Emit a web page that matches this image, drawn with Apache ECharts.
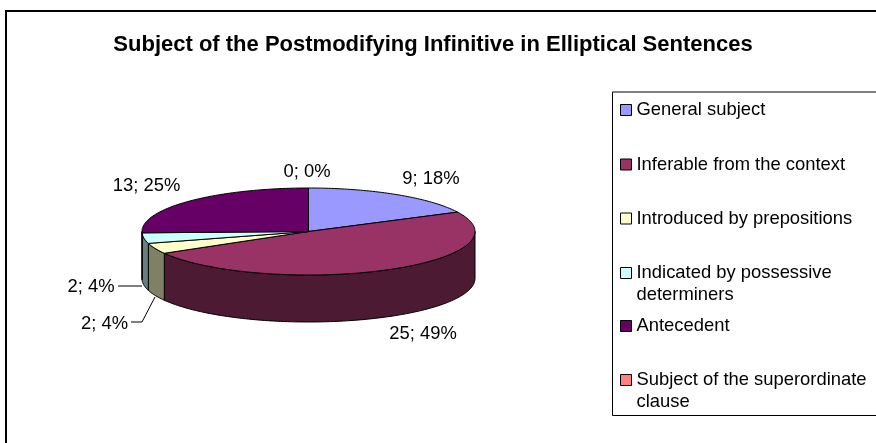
<!DOCTYPE html>
<html>
<head>
<meta charset="utf-8">
<title>Subject of the Postmodifying Infinitive in Elliptical Sentences</title>
<script src="https://cdn.jsdelivr.net/npm/echarts@6/dist/echarts.min.js"></script>
<style>
  html, body { margin: 0; padding: 0; background: #fff; }
  #chart { width: 876px; height: 443px; }
</style>
</head>
<body>
<div id="chart"></div>
<script>
// data
const chartTitle = 'Subject of the Postmodifying Infinitive in Elliptical Sentences'
const categories = [
  'General subject',
  'Inferable from the context',
  'Introduced by prepositions',
  'Indicated by possessive\ndeterminers',
  'Antecedent',
  'Subject of the superordinate\nclause'
]
const values = [9, 25, 2, 2, 13, 0]

// slice colours
const topColors = ['#9999ff', '#993366', '#ffffcc', '#ccffff', '#660066', '#ff8080']
const wallColors = ['#4d4d80', '#4d1a33', '#808066', '#668080', '#330033', '#804040']

// layout
const FONT = '"Liberation Sans", Arial, sans-serif'
const pie = { cx: 308.5, cy: 231.5, rx: 166.5, ry: 43.5, depth: 47 }
const labelPos = [[431, 179], [423, 334], [104.5, 323.5], [91, 287], [146.5, 186], [307, 172]]
const legendRows = [110, 164.5, 218.5, 273, 326, 380]

const total = values.reduce((a, b) => a + b, 0)
const starts = values.map((v, i) => values.slice(0, i).reduce((a, b) => a + b, 0))

// angle is clockwise from 12 o'clock
function topPoint(a, dy) {
  return [pie.cx + pie.rx * Math.sin(a), pie.cy - pie.ry * Math.cos(a) + (dy || 0)]
}

function arcPoints(a0, a1, dy) {
  const n = Math.max(2, Math.ceil(Math.abs(a1 - a0) / 0.02))
  const pts = []
  for (let i = 0; i <= n; i++) pts.push(topPoint(a0 + (a1 - a0) * i / n, dy))
  return pts
}

function renderSlice(color, wall) {
  return function (params, api) {
    const value = api.value(0)
    const start = api.value(1)
    const a0 = start / total * Math.PI * 2
    const a1 = (start + value) / total * Math.PI * 2
    const children = []
    const line = { stroke: '#000', lineWidth: 1 }

    // only the front half of the rim can be seen
    const w0 = Math.max(a0, Math.PI / 2)
    const w1 = Math.min(a1, Math.PI * 1.5)
    if (w1 > w0) {
      const pts = arcPoints(w0, w1, 0).concat(arcPoints(w1, w0, pie.depth))
      children.push({
        type: 'polygon',
        shape: { points: pts },
        style: Object.assign({ fill: wall }, line)
      })
    }
    if (a1 > a0) {
      children.push({
        type: 'polygon',
        shape: { points: [[pie.cx, pie.cy]].concat(arcPoints(a0, a1, 0)) },
        style: Object.assign({ fill: color }, line)
      })
    }
    return { type: 'group', children: children }
  }
}

const sliceSeries = categories.map((name, i) => ({
  type: 'custom',
  name: name,
  coordinateSystem: 'none',
  silent: true,
  clip: false,
  z: 2,
  itemStyle: { color: topColors[i], borderColor: '#000', borderWidth: 1 },
  encode: { value: [0, 1] },
  data: [[values[i], starts[i]]],
  renderItem: renderSlice(topColors[i], wallColors[i])
}))

const dataLabels = values.map((v, i) => ({
  type: 'text',
  x: labelPos[i][0],
  y: labelPos[i][1],
  style: {
    text: v + '; ' + Math.round(v / total * 100) + '%',
    font: '18.4px ' + FONT,
    fill: '#000',
    align: 'center',
    verticalAlign: 'middle'
  },
  z: 5
}))

const leaders = [
  [[118, 286], [142, 286]],
  [[131, 322], [142, 322], [155, 297]]
].map(points => ({
  type: 'polyline',
  shape: { points: points },
  style: { stroke: '#000', lineWidth: 1, fill: 'none' },
  z: 5
}))

const frames = [
  { type: 'polyline', shape: { points: [[6, 443], [6, 11], [876, 11]] }, style: { stroke: '#000', lineWidth: 2, fill: 'none' } },
  { type: 'rect', shape: { x: 612.5, y: 92, width: 280, height: 323.5 }, style: { stroke: '#000', lineWidth: 1, fill: '#fff' } }
]

// one legend per entry so the uneven rows can be kept
// wrapped entries get an empty first line, that keeps the marker on the first text line
const LINE = 22
const legends = categories.map((name, i) => {
  const wrapped = name.indexOf('\n') > 0
  return {
    data: [name],
    orient: 'vertical',
    left: 620,
    top: legendRows[i] - (wrapped ? LINE * 1.5 : LINE / 2),
    padding: 0,
    itemWidth: 11,
    itemHeight: 11,
    itemGap: 0,
    selectedMode: false,
    icon: 'rect',
    itemStyle: { borderColor: '#000', borderWidth: 1 },
    formatter: n => (wrapped ? ' \n' : '') + n,
    textStyle: { fontFamily: FONT, fontSize: 18.4, color: '#000', lineHeight: LINE }
  }
})

const chart = echarts.init(document.getElementById('chart'), null, { renderer: 'canvas' })
chart.setOption({
  animation: false,
  backgroundColor: '#fff',
  title: {
    text: chartTitle,
    left: 433,
    textAlign: 'center',
    top: 34,
    padding: 0,
    textStyle: { fontFamily: FONT, fontSize: 22, fontWeight: 'bold', color: '#000' }
  },
  legend: legends,
  series: sliceSeries,
  graphic: { elements: frames.concat(leaders, dataLabels) }
})
</script>
</body>
</html>
